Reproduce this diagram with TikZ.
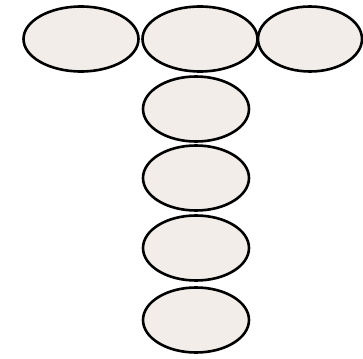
\documentclass[tikz,border=0pt]{standalone}
\usetikzlibrary{shapes.geometric}
\definecolor{shell}{RGB}{242,237,233}
\begin{document}
\begin{tikzpicture}[x=1pt,y=-1pt,
  ring/.style={ellipse,draw=black,fill=shell,line width=2.6pt,
    minimum width=115pt,minimum height=65pt,inner sep=0pt},
  stem/.style={ring,minimum width=106pt}]
  \useasboundingbox (0,0) rectangle (363,358);
  \node[ring] (left) at (81,39) {};
  \node[ring] (mid) at (200,39) {};
  \node[ring,minimum width=104pt] (right) at (310,39) {};
  \node[stem] (s1) at (196,109) {};
  \node[stem] (s2) at (196,178) {};
  \node[stem] (s3) at (196,248) {};
  \node[stem] (s4) at (196,320) {};
\end{tikzpicture}
\end{document}
